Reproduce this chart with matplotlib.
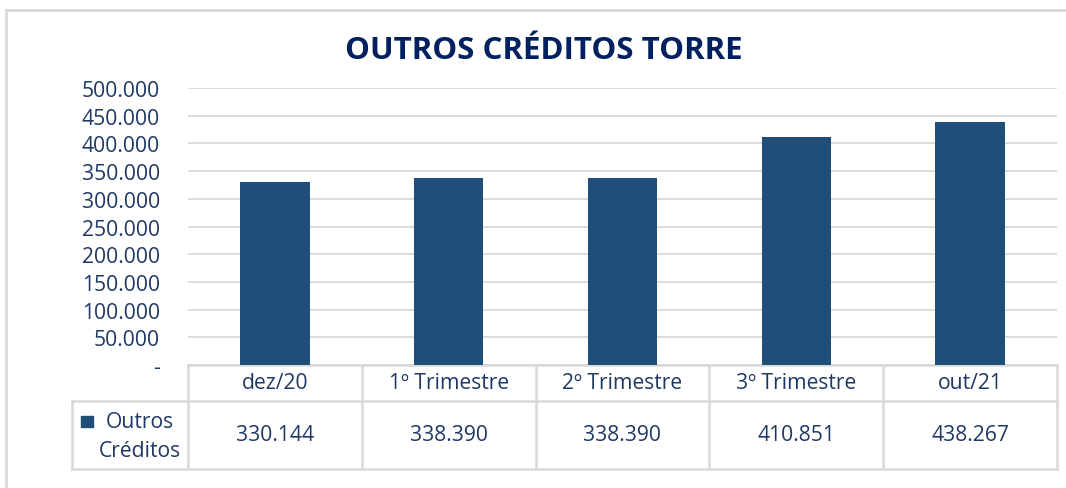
import matplotlib
matplotlib.use("Agg")
import matplotlib.pyplot as plt
from matplotlib.patches import Rectangle
from matplotlib.lines import Line2D
from matplotlib.ticker import FuncFormatter

# ---- data ----
categories = ["dez/20", "1º Trimestre", "2º Trimestre", "3º Trimestre", "out/21"]
values = [330144, 338390, 338390, 410851, 438267]
series_name = "Outros\nCréditos"
title = "OUTROS CRÉDITOS TORRE"
y_ticks = [0, 50000, 100000, 150000, 200000, 250000, 300000, 350000, 400000, 450000, 500000]

# ---- style ----
plt.rcParams['font.family'] = ['Open Sans', 'DejaVu Sans']
BAR = "#1F4E79"
TXT = "#1F3864"
TITLE = "#002060"
GRID = "#D9D9D9"
FS = 15.2

W, H = 1066, 489
fig = plt.figure(figsize=(W / 100, H / 100), dpi=100)

def fx(px):
    return px / W

def fy(py):
    return 1 - py / H

# outer chart border (top + left visible)
fig.add_artist(Line2D([fx(6), fx(6)], [fy(11), 0], color=GRID, lw=2.0, transform=fig.transFigure))
fig.add_artist(Line2D([fx(6), 1], [fy(11), fy(11)], color=GRID, lw=2.0, transform=fig.transFigure))

left, right, top, bottom = 188, 1057, 89, 366
ax = fig.add_axes([fx(left), fy(bottom), fx(right - left), (bottom - top) / H])

x = list(range(len(categories)))
ax.bar(x, values, width=0.4, color=BAR, zorder=3)
ax.set_xlim(-0.5, len(categories) - 0.5)
ax.set_ylim(0, 500000)
ax.set_yticks(y_ticks)

def fmt(v, pos):
    if v == 0:
        return "-"
    return f"{int(v):,}".replace(",", ".")

ax.yaxis.set_major_formatter(FuncFormatter(fmt))
ax.tick_params(axis='y', length=0, pad=20, labelsize=FS, labelcolor=TXT)
ax.set_xticks([])
ax.grid(axis='y', color=GRID, lw=1.3, zorder=0)
for s in ax.spines.values():
    s.set_visible(False)

# ---- data table below axes ----
axh = bottom - top
r1 = -(402 - bottom) / axh
r2 = -(470 - bottom) / axh
lx = (72 - left) / (right - left)
tr = ax.get_xaxis_transform()
tra = ax.transAxes
lk = dict(color=GRID, lw=1.8, clip_on=False)
n = len(categories)
# horizontal lines
ax.add_line(Line2D([-0.5, n - 0.5], [0, 0], transform=tr, **lk))
ax.add_line(Line2D([lx, 1], [r1, r1], transform=tra, **lk))
ax.add_line(Line2D([lx, 1], [r2, r2], transform=tra, **lk))
# vertical lines
for i in range(n + 1):
    ax.add_line(Line2D([i - 0.5, i - 0.5], [0, r2], transform=tr, **lk))
ax.add_line(Line2D([lx, lx], [r1, r2], transform=tra, **lk))

for i, (c, v) in enumerate(zip(categories, values)):
    ax.text(i, r1 / 2, c, transform=tr, ha='center', va='center', fontsize=FS, color=TXT)
    ax.text(i, (r1 + r2) / 2, fmt(v, None), transform=tr, ha='center', va='center', fontsize=FS, color=TXT)

# legend key + series name
fig.add_artist(Rectangle((fx(81), fy(428)), fx(12), 11 / H, color=BAR, transform=fig.transFigure))
fig.text(fx(140), fy(437), series_name, ha='center', va='center', fontsize=FS, color=TXT,
         linespacing=1.45)

fig.text(fx(544), fy(51), title, ha='center', va='center', fontsize=22.5, fontweight='bold', color=TITLE)

fig.savefig("out.png", dpi=100)
